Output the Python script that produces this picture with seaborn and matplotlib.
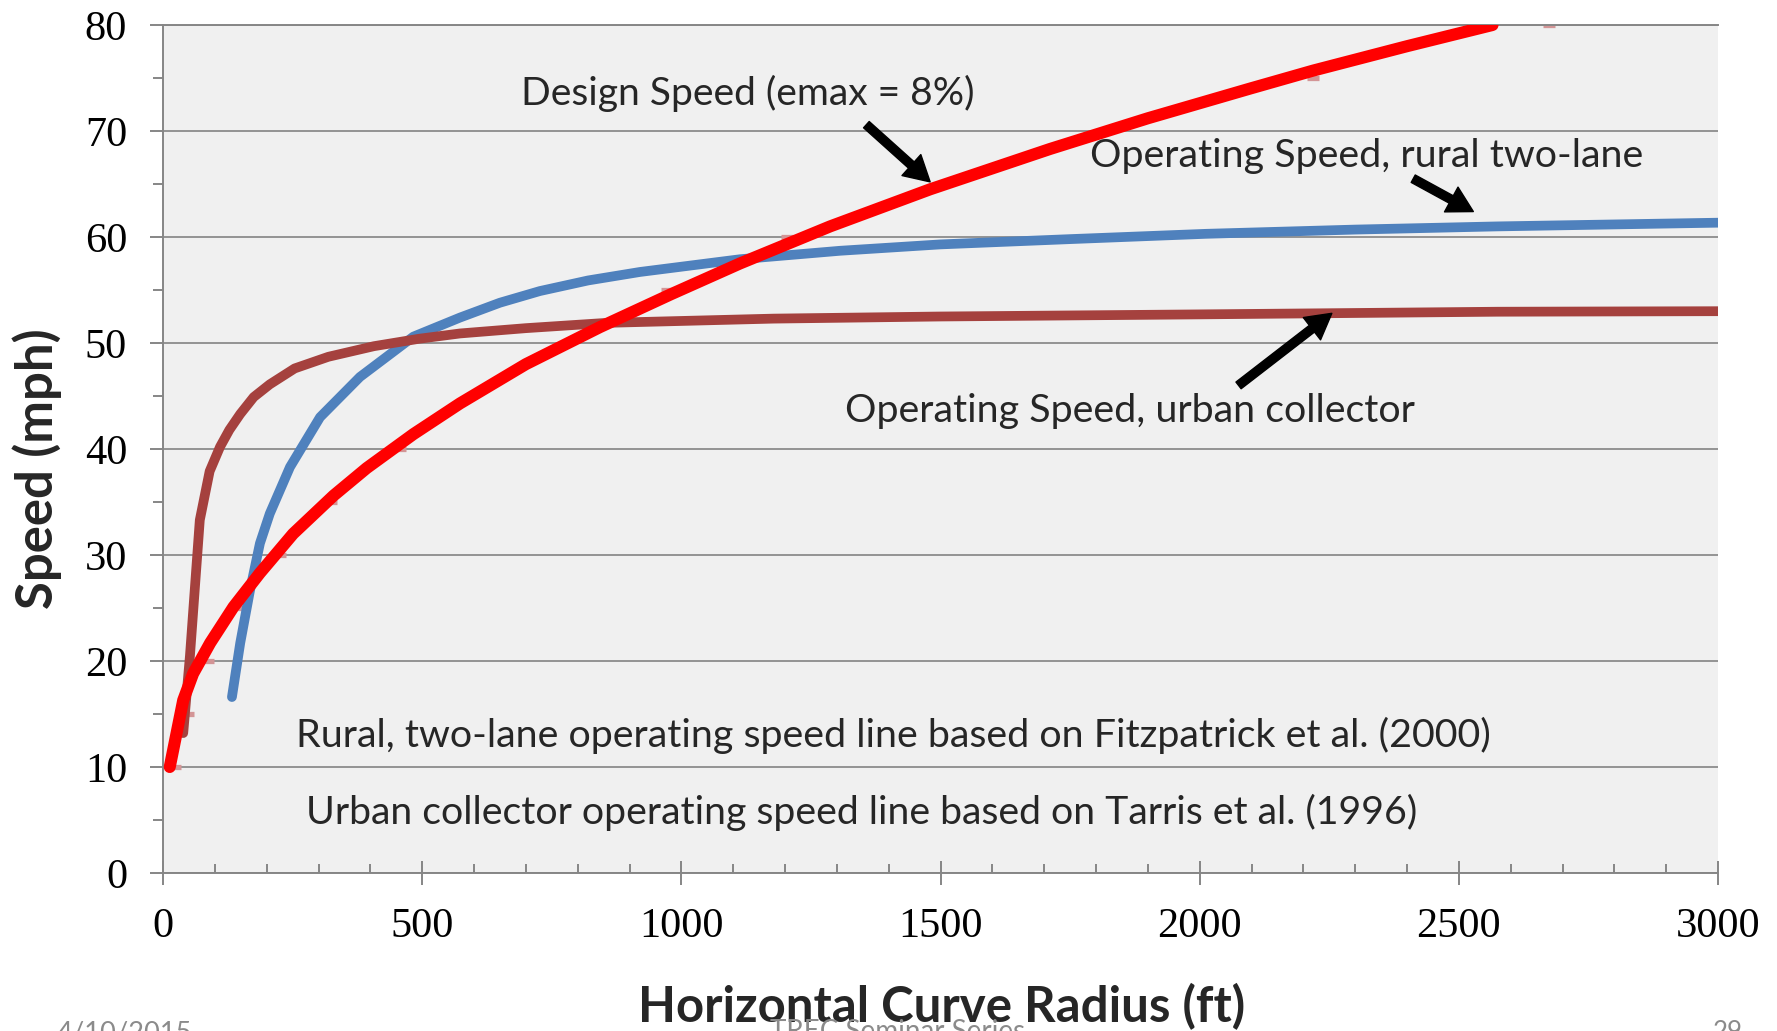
import matplotlib
matplotlib.use('Agg')
import matplotlib.pyplot as plt
import seaborn as sns
from matplotlib.ticker import MultipleLocator

# Design speed curve (emax = 8%), radius in ft / speed in mph
design_radius = [13, 39, 58, 91, 136, 187, 251, 329, 393, 483, 573, 700, 843, 980, 1113, 1287, 1480, 1711, 1900,
                 2097, 2219, 2400, 2565]
design_speed = [10.0, 16.3, 18.8, 21.7, 25.1, 28.3, 32.0, 35.6, 38.2, 41.4, 44.3, 48.0, 51.5, 54.6, 57.5, 61.0,
                64.5, 68.3, 71.2, 74.0, 75.7, 78.0, 80.0]

# small table points behind the design curve
table_radius = [23, 49, 87, 145, 226, 325, 457, 972, 1203, 2218, 2674]
table_speed = [10, 15, 20, 25, 30, 35, 40, 55, 60, 75, 80]

# Operating speed, rural two-lane (Fitzpatrick et al. 2000)
rural_radius = [133, 149, 168, 187, 206, 245, 303, 380, 483, 573, 650, 727, 820, 920, 1113, 1306, 1499, 1750,
                2012, 2300, 2574, 3000]
rural_speed = [16.6, 21.7, 26.7, 31.1, 33.9, 38.3, 43.0, 46.8, 50.6, 52.4, 53.8, 54.9, 55.9, 56.7, 57.9, 58.7,
               59.3, 59.8, 60.3, 60.7, 61.0, 61.35]

# Operating speed, urban collector (Tarris et al. 1996)
urban_radius = [39, 52, 71, 90, 110, 128, 149, 175, 206, 254, 319, 407, 494, 573, 700, 856, 1178, 1499, 2000,
                2574, 3000]
urban_speed = [13.2, 20.5, 33.3, 37.9, 40.2, 41.8, 43.3, 44.9, 46.1, 47.6, 48.7, 49.7, 50.4, 50.9, 51.4, 51.9,
               52.3, 52.5, 52.7, 52.95, 53.0]

W, H = 1777, 1031
GRAY = '#868686'

sns.set_theme(style='ticks')
plt.rcParams['font.family'] = ['Lato', 'DejaVu Sans']

fig = plt.figure(figsize=(W / 100, H / 100), dpi=100)
ax = fig.add_axes([163 / W, 1 - 873 / H, (1718 - 163) / W, (873 - 25) / H])
ax.set_facecolor('#f0f0f0')

sns.lineplot(x=table_radius, y=table_speed, ax=ax, color='#d39596', marker='_', linestyle='none',
             markersize=8, markeredgewidth=3.8, markeredgecolor='#d39596', zorder=2)
sns.lineplot(x=rural_radius, y=rural_speed, ax=ax, color='#4f81bd', lw=7, sort=False, estimator=None,
             solid_capstyle='round', solid_joinstyle='round', zorder=3)
sns.lineplot(x=urban_radius, y=urban_speed, ax=ax, color='#a5413e', lw=7, sort=False, estimator=None,
             solid_capstyle='round', solid_joinstyle='round', zorder=3.5)
sns.lineplot(x=design_radius, y=design_speed, ax=ax, color='#ff0000', lw=8.7, sort=False, estimator=None,
             solid_capstyle='round', solid_joinstyle='round', zorder=4)

ax.set_xlim(0, 3000)
ax.set_ylim(0, 80)
ax.xaxis.set_major_locator(MultipleLocator(500))
ax.xaxis.set_minor_locator(MultipleLocator(100))
ax.yaxis.set_major_locator(MultipleLocator(10))
ax.yaxis.set_minor_locator(MultipleLocator(5))
ax.grid(axis='y', which='major', color='#8c8c8c', lw=1.3, zorder=1)
ax.grid(axis='x', visible=False)
ax.set_axisbelow(True)

for s in ['left', 'bottom', 'top']:
    ax.spines[s].set_color(GRAY)
    ax.spines[s].set_linewidth(1.4)
ax.spines['right'].set_visible(False)

ax.tick_params(axis='y', which='major', direction='out', length=9.4, width=1.4, color=GRAY, pad=16.5)
ax.tick_params(axis='y', which='minor', direction='out', length=7.2, width=1.4, color=GRAY)
ax.tick_params(axis='x', which='major', direction='inout', length=16.6, width=1.4, color=GRAY, pad=16.5)
ax.tick_params(axis='x', which='minor', direction='in', length=6.5, width=1.4, color=GRAY)
ax.tick_params(labelsize=30.5, labelcolor='black')
for lab in ax.get_xticklabels() + ax.get_yticklabels():
    lab.set_family('Liberation Serif')
ax.set_xlabel('')
ax.set_ylabel('')

# arrows
arrow_style = 'simple,head_width=1.4,head_length=1.25,tail_width=0.42'
for tail, tip in [((1357, 70.6), (1480, 65.2)),
                  ((2412, 65.5), (2528, 62.4)),
                  ((2075, 46.0), (2255, 52.8))]:
    ax.annotate('', xy=tip, xytext=tail,
                arrowprops=dict(arrowstyle=arrow_style, color='black', mutation_scale=14.5,
                                shrinkA=0, shrinkB=0), zorder=6)

renderer = fig.canvas.get_renderer()


def put(txt, x, y, width=None, height=None, **kw):
    t = fig.text(x / W, 1 - y / H, txt, **kw)
    bb = t.get_window_extent(renderer)
    if width:
        t.set_fontsize(t.get_fontsize() * width / bb.width)
    if height:
        t.set_fontsize(t.get_fontsize() * height / bb.height)
    return t


put('Design Speed (emax = 8%)', 521, 105, width=454, fontsize=20, va='baseline', zorder=7)
put('Operating Speed, rural two-lane', 1090, 167, width=556, fontsize=20, va='baseline', zorder=7)
put('Operating Speed, urban collector', 845, 422, width=572, fontsize=20, va='baseline', zorder=7)
put('Rural, two-lane operating speed line based on Fitzpatrick et al. (2000)', 296, 747, width=1198,
    fontsize=20, va='baseline', zorder=7)
put('Urban collector operating speed line based on Tarris et al. (1996)', 306, 824, width=1115,
    fontsize=20, va='baseline', zorder=7)

put('Horizontal Curve Radius (ft)', 638, 1022, width=605, fontsize=30, fontweight='bold', va='baseline')
put('Speed (mph)', 37, 469, height=280, fontsize=30, fontweight='bold', rotation=90,
    ha='center', va='center')

# slide footer, partly cut off at the bottom edge
put('4/10/2015', 57, 1020, width=135, fontsize=20, color='#8b8b8b', va='top')
put('TREC Seminar Series', 770, 1019, width=255, fontsize=20, color='#8b8b8b', va='top')
put('29', 1713, 1020, width=30, fontsize=20, color='#8b8b8b', va='top')

fig.savefig('out.png', dpi=100)
